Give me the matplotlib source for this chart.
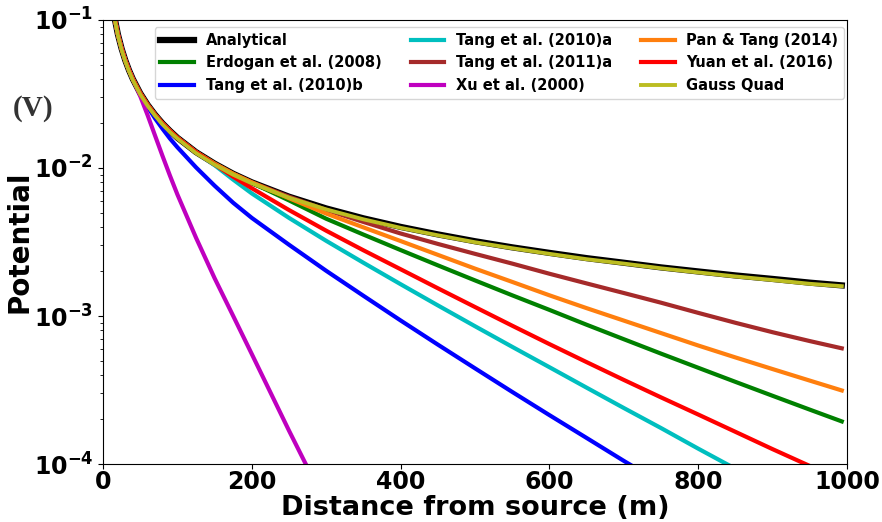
import numpy as np
import matplotlib
matplotlib.use('Agg')
import matplotlib.pyplot as plt

plt.rcParams['font.weight'] = 'bold'
plt.rcParams['mathtext.default'] = 'bf'

# distance from the current source (m)
dist = [10, 15, 20, 25, 30, 35, 40, 50, 60, 70, 80, 90, 100, 125, 150, 175, 200,
        250, 300, 350, 400, 450, 500, 550, 600, 650, 700, 750, 800, 850, 900, 950, 993]

# potential (V) for each method
analytical = [0.16, 0.1067, 0.080, 0.064, 0.0533, 0.0457, 0.040, 0.032, 0.0267, 0.0229, 0.020, 0.0178, 0.016,
              0.0128, 0.0107, 0.00914, 0.0080, 0.0064, 0.00533, 0.00457, 0.0040, 0.00356, 0.0032, 0.00291,
              0.00267, 0.00246, 0.00229, 0.00213, 0.0020, 0.00188, 0.00178, 0.00168, 0.00161]
erdogan = [0.16, 0.1067, 0.080, 0.064, 0.0533, 0.0457, 0.040, 0.032, 0.0267, 0.0229, 0.020, 0.0178, 0.016,
           0.0128, 0.0107, 0.00914, 0.00794, 0.00604, 0.00454, 0.00355, 0.00279, 0.0022, 0.00174, 0.00138,
           0.0011, 8.73e-4, 6.97e-4, 5.57e-4, 4.47e-4, 3.59e-4, 2.89e-4, 2.33e-4, 1.94e-4]
tang2010b = [0.16, 0.1067, 0.080, 0.064, 0.0533, 0.0457, 0.040, 0.0316, 0.0259, 0.0216, 0.0184, 0.0158, 0.0138,
             0.0101, 0.00759, 0.00582, 0.0046, 0.00303, 0.00202, 0.00137, 9.33e-4, 6.41e-4, 4.43e-4, 3.07e-4,
             2.14e-4, 1.5e-4, 1.05e-4, 7.43e-5, 5.27e-5, 3.76e-5, 2.69e-5, 1.94e-5, 1.46e-5]
tang2010a = [0.16, 0.1067, 0.080, 0.064, 0.0533, 0.0457, 0.040, 0.032, 0.0267, 0.0229, 0.020, 0.0178, 0.016,
             0.0128, 0.01045, 0.00834, 0.00673, 0.0046, 0.00322, 0.00229, 0.00164, 0.00118, 8.53e-4, 6.19e-4,
             4.51e-4, 3.28e-4, 2.39e-4, 1.75e-4, 1.27e-4, 9.29e-5, 6.78e-5, 4.94e-5, 3.77e-5]
tang2011a = [0.16, 0.1067, 0.080, 0.064, 0.0533, 0.0457, 0.040, 0.032, 0.0267, 0.0229, 0.020, 0.0178, 0.016,
             0.0128, 0.0107, 0.00914, 0.0080, 0.0064, 0.00521, 0.00432, 0.00361, 0.00307, 0.00263, 0.00226,
             0.00193, 0.00166, 0.00143, 0.00123, 0.00105, 9.0e-4, 7.77e-4, 6.77e-4, 6.05e-4]
xu_dist = [10, 15, 20, 25, 30, 35, 40, 50, 60, 70, 80, 90, 100, 125, 150, 175, 200, 250, 300]
xu2000 = [0.16, 0.1067, 0.080, 0.064, 0.0533, 0.0457, 0.040, 0.0306, 0.0227, 0.01652, 0.01205, 0.00887, 0.00662,
          0.00338, 0.0018, 0.0010, 5.53e-4, 1.68e-4, 5.3e-5]
pan_tang = [0.16, 0.1067, 0.080, 0.064, 0.0533, 0.0457, 0.040, 0.032, 0.0267, 0.0229, 0.020, 0.0178, 0.016,
            0.0128, 0.0107, 0.00914, 0.0080, 0.00625, 0.00492, 0.00397, 0.00321, 0.00259, 0.00209, 0.0017,
            0.00138, 0.00113, 9.31e-4, 7.67e-4, 6.32e-4, 5.25e-4, 4.38e-4, 3.66e-4, 3.14e-4]
yuan = [0.16, 0.1067, 0.080, 0.064, 0.0533, 0.0457, 0.040, 0.032, 0.0267, 0.0229, 0.020, 0.0178, 0.016,
        0.0128, 0.01058, 0.00873, 0.0073, 0.0052, 0.00377, 0.00278, 0.00207, 0.00154, 0.00115, 8.6e-4,
        6.46e-4, 4.88e-4, 3.7e-4, 2.82e-4, 2.16e-4, 1.65e-4, 1.26e-4, 9.7e-5, 7.7e-5]
gauss_quad = [0.1576, 0.1051, 0.0788, 0.063, 0.0525, 0.045, 0.0394, 0.0315, 0.0263, 0.0226, 0.0197, 0.0175,
              0.0158, 0.0126, 0.01054, 0.009, 0.00788, 0.0063, 0.00525, 0.0045, 0.00394, 0.00351, 0.00315,
              0.00287, 0.00263, 0.00242, 0.00226, 0.0021, 0.00197, 0.00185, 0.00175, 0.00165, 0.00159]

fig = plt.figure(figsize=(8.82, 5.22), dpi=100)
ax = fig.add_axes([0.1168, 0.1111, 0.8435, 0.8506])

ax.semilogy(dist, analytical, color='k', lw=4.5, label='Analytical')
ax.semilogy(dist, erdogan, color='g', lw=3, label='Erdogan et al. (2008)')
ax.semilogy(dist, tang2010b, color='b', lw=3, label='Tang et al. (2010)b')
ax.semilogy(dist, tang2010a, color='c', lw=3, label='Tang et al. (2010)a')
ax.semilogy(dist, tang2011a, color='brown', lw=3, label='Tang et al. (2011)a')
ax.semilogy(xu_dist, xu2000, color='m', lw=3, label='Xu et al. (2000)')
ax.semilogy(dist, pan_tang, color='tab:orange', lw=3, label='Pan & Tang (2014)')
ax.semilogy(dist, yuan, color='r', lw=3, label='Yuan et al. (2016)')
ax.semilogy(dist, gauss_quad, color='tab:olive', lw=2.8, label='Gauss Quad')

ax.set_xlim(0, 1000)
ax.set_ylim(1e-4, 1e-1)
ax.tick_params(axis='both', which='major', labelsize=17)
ax.tick_params(axis='x', pad=0.8)
ax.set_xlabel('Distance from source (m)', fontsize=19.5, fontweight='bold', labelpad=0.5)
ax.set_ylabel('Potential', fontsize=20, fontweight='bold')
ax.yaxis.set_label_coords(-0.093, 0.5)

ax.legend(ncol=3, loc='upper right', bbox_to_anchor=(1.0, 0.99), borderaxespad=0.2,
          handlelength=2.3, prop={'weight': 'bold', 'size': 10.5})

fig.text(0.0374, 0.793, '(V)', family='Liberation Serif', fontweight='bold',
         fontsize=21, color='#333333', ha='center', va='center')

plt.savefig('out.png', dpi=100)
